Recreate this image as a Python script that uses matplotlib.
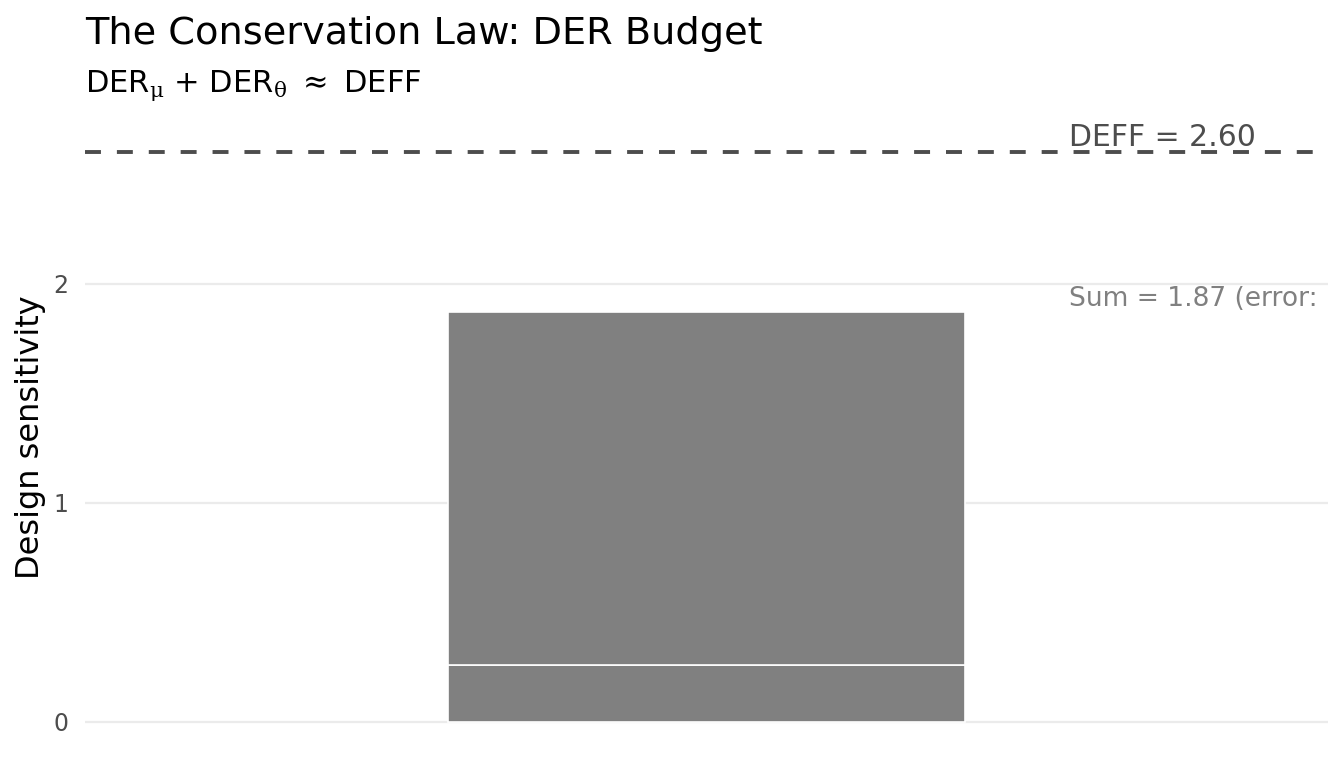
import matplotlib
matplotlib.use("Agg")
import matplotlib.pyplot as plt

# Data
categories = ["Budget"]
der_mu = [0.26]
der_theta = [1.61]
deff = 2.60
total = der_mu[0] + der_theta[0]
y_ticks = [0, 1, 2]

fig = plt.figure(figsize=(13.44, 7.68), dpi=100)
W, H = 1344, 768
ax = fig.add_axes([85 / W, (768 - 750) / H, (1328 - 85) / W, (750 - 124) / H])

x = [1]
ax.bar(x, der_mu, width=0.5, color="#808080", edgecolor="white", linewidth=1.2, zorder=3)
ax.bar(x, der_theta, bottom=der_mu, width=0.5, color="#808080", edgecolor="white", linewidth=1.2, zorder=3)

lw = 2.8
ax.axhline(deff, color="#4d4d4d", linewidth=lw, linestyle=(0, (4.1, 4.1)), zorder=4)

ax.annotate(f"DEFF = {deff:.2f}", xy=(1.35, deff), xytext=(0, 5), textcoords="offset points",
            color="#4d4d4d", fontsize=21.5, ha="left", va="baseline", zorder=5,
            annotation_clip=False, clip_on=True)
ax.annotate(f"Sum = {total:.2f} (error: {abs(deff - total) / deff * 100:.1f}%)",
            xy=(1.35, total), xytext=(0, 4.3), textcoords="offset points",
            color="#808080", fontsize=19.1, ha="left", va="baseline", zorder=5,
            annotation_clip=False, clip_on=True)

ax.set_xlim(0.4, 1.6)
ax.set_ylim(-0.128, 2.73)
ax.set_yticks(y_ticks)
ax.set_yticklabels([str(v) for v in y_ticks], color="#4d4d4d", fontsize=17)
ax.set_xticks([])
ax.tick_params(axis="y", length=0, pad=12)
ax.grid(axis="y", color="#ebebeb", linewidth=1.6, zorder=0)
for s in ax.spines.values():
    s.set_visible(False)
ax.set_ylabel("Design sensitivity", fontsize=23, labelpad=5)

fig.text(85 / W, 1 - 44 / H, "The Conservation Law: DER Budget", fontsize=27.5,
         ha="left", va="baseline")
fig.text(85 / W, 1 - 92 / H, r"DER$_{\mathrm{\mu}}$ + DER$_{\mathrm{\theta}}$ $\approx$ DEFF",
         fontsize=22, ha="left", va="baseline", math_fontfamily="dejavuserif")

fig.savefig("out.png", dpi=100)
